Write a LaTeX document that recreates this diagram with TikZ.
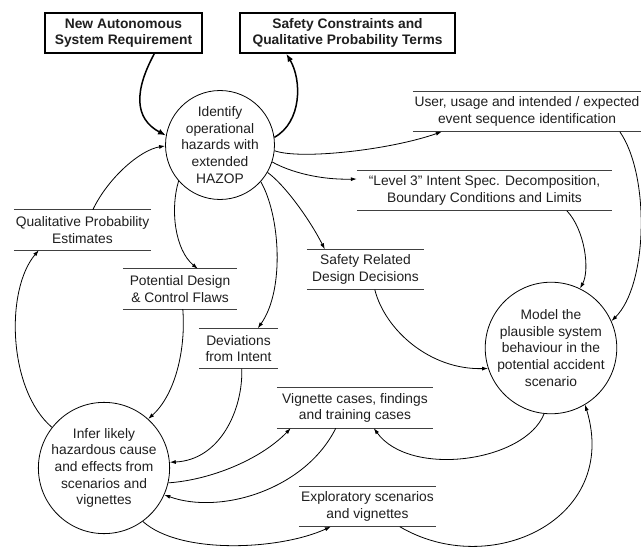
\documentclass[tikz,border=0pt]{standalone}
\usepackage{fontspec}
\setmainfont{Liberation Sans}
\usetikzlibrary{arrows.meta}
\begin{document}
\begin{tikzpicture}[x=1pt,y=-1pt,
  every node/.style={font=\fontsize{13.8}{16.6}\selectfont, text=black!88, inner sep=0pt, align=center},
  proc/.style={draw, circle, line width=0.8pt},
  tbox/.style={minimum height=40pt},
  bbox/.style={draw, line width=1.4pt, minimum height=40pt, font=\fontsize{13.8}{16.6}\selectfont\bfseries},
  flow/.style={line width=0.8pt, -{Latex[length=6pt,width=4pt]}},
  thickflow/.style={line width=1.5pt, -{Latex[length=8pt,width=6pt]}},
  boxline/.style={line width=0.9pt, draw=black!75}
]
\clip (0,0) rectangle (641,551);
\fill[white] (0,0) rectangle (641,551);

% bold input boxes
\node[bbox, minimum width=157pt] (box1) at (123.5,33) {New Autonomous\\System Requirement};
\node[bbox, minimum width=215pt] (box2) at (347.5,33) {Safety Constraints and\\Qualitative Probability Terms};

% processes
\node[proc, minimum size=96pt] (haz) at (220,145) {Identify\\operational\\hazards with\\extended\\HAZOP};
\node[proc, minimum size=118pt] (model) at (551,348) {Model the\\plausible system\\behaviour in the\\potential accident\\scenario};
\node[proc, minimum size=118pt] (infer) at (104,468) {Infer likely\\hazardous cause\\and effects from\\scenarios and\\vignettes};

% data stores
\node[tbox, minimum width=137pt] (qpe) at (82.5,230) {Qualitative Probability\\Estimates};
\node[tbox, minimum width=114pt] (pdf) at (180,289) {Potential Design\\\& Control Flaws};
\node[tbox, minimum width=79pt] (dev) at (238.5,348.5) {Deviations\\from Intent};
\node[tbox, minimum width=117pt] (srd) at (365.5,269.5) {Safety Related\\Design Decisions};
\node[tbox, minimum width=255pt] (lvl) at (484.5,190.5) {“Level 3” Intent Spec. Decomposition,\\Boundary Conditions and Limits};
\node[tbox, minimum width=228pt] (usr) at (527,111.5) {User, usage and intended / expected\\event sequence identification};
\node[tbox, minimum width=156pt] (vig) at (355,408) {Vignette cases, findings\\and training cases};
\node[tbox, minimum width=137pt] (exp) at (367.5,506.5) {Exploratory scenarios\\and vignettes};

\foreach \n in {qpe,pdf,dev,srd,lvl,usr,vig,exp}{
  \draw[boxline] (\n.north west) -- (\n.north east) (\n.south west) -- (\n.south east);
}

% thick flows
\draw[thickflow] ([xshift=110pt]box1.south west) .. controls +(-20,37) and +(-32,-17) .. (haz.170);
\draw[thickflow] (haz.8) .. controls (302,122) and (302,80) .. ([xshift=47pt]box2.south west);

% flows
\draw[flow] ([xshift=79pt]qpe.north west) .. controls (108,178) and (140,150) .. (haz.181);
\draw[flow] (haz.221) .. controls (170,210) and (175,250) .. ([xshift=75pt]pdf.north west);
\draw[flow] (haz.318) .. controls (280,215) and (285,290) .. ([xshift=59pt]dev.north west);
\draw[flow] (haz.330) .. controls (285,185) and (310,220) .. ([xshift=18pt]srd.north west);
\draw[flow] (haz.354) .. controls (300,160) and (390,150) .. ([xshift=29pt]usr.south west);
\draw[flow] (haz.342) .. controls (290,172) and (320,180) .. ([yshift=11.5pt]lvl.west);
\draw[flow] ([xshift=68pt]srd.south west) .. controls (385,330) and (430,370) .. (model.198);
\draw[flow] ([xshift=210pt]lvl.south west) .. controls (585,230) and (590,270) .. (model.64);
\draw[flow] ([xshift=207pt]usr.south west) .. controls (650,175) and (648,285) .. (model.24);
\draw[flow] ([xshift=60pt]pdf.south west) .. controls (186,350) and (175,395) .. (infer.48);
\draw[flow] ([xshift=43pt]dev.south west) .. controls (243,410) and (220,460) .. (infer.5);
\draw[flow] (infer.347) .. controls (210,480) and (260,460) .. ([xshift=14pt]vig.south west);
\draw[flow] ([xshift=59pt]vig.south west) .. controls (305,490) and (220,515) .. (infer.336);
\draw[flow] (model.264) .. controls (525,462) and (410,478) .. ([xshift=97pt]vig.south west);
\draw[flow] (infer.306) .. controls (180,555) and (280,550) .. ([xshift=32pt]exp.south west);
\draw[flow] ([xshift=101pt]exp.south west) .. controls (490,580) and (620,520) .. (model.301);
\draw[flow] (infer.142) .. controls (8,390) and (5,290) .. ([xshift=25pt]qpe.south west);
\end{tikzpicture}
\end{document}
